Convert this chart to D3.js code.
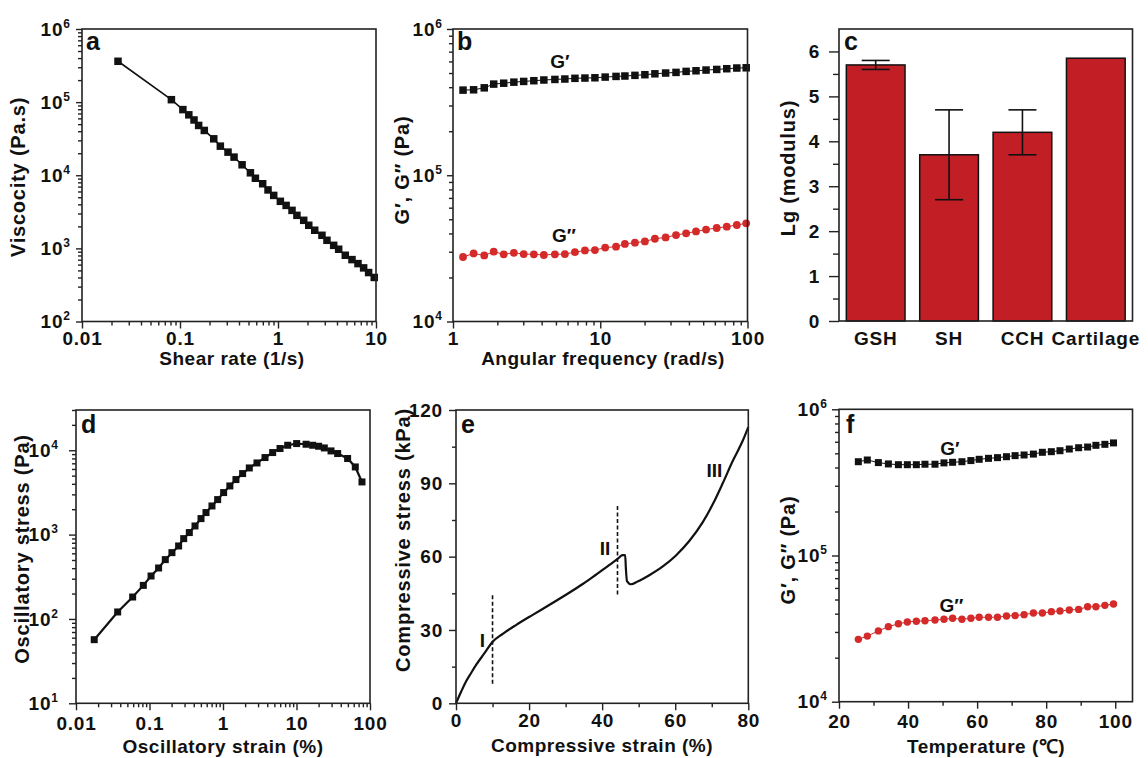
<!DOCTYPE html>
<html>
<head>
<meta charset="utf-8">
<script src="https://cdn.jsdelivr.net/npm/d3@7"></script>
<style>
  body { margin: 0; background: #fff; }
  svg { display: block; }
  text { font-family: "Liberation Sans", Arial, sans-serif; font-weight: bold; fill: #111; }
  .tick text { font-size: 19px; letter-spacing: 0.8px; }
  .xt { font-size: 19px; letter-spacing: 0.5px; }
  .yt { font-size: 20px; letter-spacing: 0.8px; }
  .tag { font-size: 25px; }
  .lbl { font-size: 19px; }
</style>
</head>
<body>
<svg id="fig" width="1148" height="758"></svg>
<script>
// ---- data ----
// a: viscosity vs shear rate
var aShear = [0.0233, 0.0817, 0.107, 0.123, 0.139, 0.155, 0.177, 0.221, 0.258, 0.309, 0.356, 0.43, 0.523, 0.588,
  0.698, 0.791, 0.904, 1.057, 1.21, 1.39, 1.56, 1.83, 2.06, 2.37, 2.81, 3.16, 3.70, 4.16, 4.86, 5.69, 6.55, 7.48, 8.41, 9.6];
var aVisc = [3.62e5, 1.08e5, 7.9e4, 6.7e4, 5.7e4, 4.8e4, 4.1e4, 3.15e4, 2.5e4, 2.07e4, 1.77e4, 1.39e4, 1.08e4, 9.1e3,
  7.65e3, 6.3e3, 5.3e3, 4.4e3, 3.87e3, 3.31e3, 2.83e3, 2.42e3, 2.07e3, 1.77e3, 1.51e3, 1.29e3, 1.10e3, 973, 805, 702, 619, 541, 467, 400];
var aXTicks = [0.01, 0.1, 1, 10];
var aYTicks = [1e2, 1e3, 1e4, 1e5, 1e6];

// b: frequency sweep
var bFreq = [1.17, 1.38, 1.63, 1.89, 2.21, 2.59, 3.02, 3.54, 4.14, 4.92, 5.75, 6.73, 7.87, 9.2, 10.8, 12.8, 14.7,
  17.2, 20.1, 23.5, 27.8, 32.7, 38.3, 44.7, 52.3, 61.8, 72.3, 84.6, 98];
var bGp = [3.82e5, 3.84e5, 3.96e5, 4.20e5, 4.26e5, 4.33e5, 4.38e5, 4.43e5, 4.48e5, 4.52e5, 4.55e5, 4.60e5, 4.62e5, 4.64e5,
  4.69e5, 4.74e5, 4.77e5, 4.82e5, 4.87e5, 4.94e5, 5.0e5, 5.05e5, 5.13e5, 5.18e5, 5.24e5, 5.29e5, 5.35e5, 5.41e5, 5.43e5];
var bGpp = [2.76e4, 2.92e4, 2.83e4, 3.0e4, 2.88e4, 2.95e4, 2.89e4, 2.88e4, 2.85e4, 2.88e4, 2.89e4, 2.98e4, 3.06e4, 3.08e4,
  3.20e4, 3.25e4, 3.39e4, 3.46e4, 3.53e4, 3.68e4, 3.76e4, 3.90e4, 4.01e4, 4.13e4, 4.25e4, 4.36e4, 4.45e4, 4.57e4, 4.69e4];
var bXTicks = [1, 10, 100];
var bYTicks = [1e4, 1e5, 1e6];

// c: modulus comparison
var cGroups = ['GSH', 'SH', 'CCH', 'Cartilage'];
var cModulus = [5.7, 3.7, 4.2, 5.85];
var cError = [0.1, 1.0, 0.5, 0];
var cYTicks = [0, 1, 2, 3, 4, 5, 6];

// d: amplitude sweep
var dStrain = [0.0177, 0.0369, 0.059, 0.0824, 0.105, 0.133, 0.164, 0.202, 0.249, 0.292, 0.348, 0.416, 0.502, 0.587,
  0.708, 0.846, 1.02, 1.24, 1.50, 1.85, 2.28, 2.90, 3.73, 4.74, 5.97, 7.59, 10.05, 13.5, 16.6, 20.0, 23.9, 29.5, 36.3,
  49.6, 63.1, 77.8];
var dStress = [56.8, 121, 182, 250, 323, 402, 505, 611, 733, 896, 1057, 1266, 1548, 1825, 2185, 2600, 3150, 3774, 4490,
  5290, 6170, 7070, 8190, 9390, 10480, 11460, 12000, 11780, 11460, 11150, 10650, 9820, 9140, 7980, 6340, 4210];
var dXTicks = [0.01, 0.1, 1, 10, 100];
var dYTicks = [1e1, 1e2, 1e3, 1e4];

// e: compression curve
var eStrain = [0, 1.4, 2.7, 4.1, 5.5, 7.8, 9.9, 12.8, 16.4, 21, 25.5, 30.1, 34.7, 38.3, 42, 44.3, 45.6, 46.3, 46.5,
  46.8, 47.9, 49.7, 52.9, 56.6, 60.2, 63.9, 67.5, 70.3, 73, 75.7, 78.5, 80];
var eStress = [0, 4.7, 8.8, 12.3, 15.7, 20.5, 25, 28.4, 32.0, 36.2, 40.2, 44.4, 48.8, 52.6, 56.6, 59.2, 60.6, 60.6, 55,
  50, 48.7, 49.8, 52.4, 56, 60.5, 66.5, 74, 81.5, 90, 99, 107.5, 113];
var eMarkX = [10, 44.2];
var eMarkLo = [8, 44.5];
var eMarkHi = [44.5, 81.5];
var eRegions = ['I', 'II', 'III'];
var eXTicks = [0, 20, 40, 60, 80];
var eYTicks = [0, 30, 60, 90, 120];

// f: temperature sweep
var fTemp = [25.6, 28.2, 31.4, 34.3, 37.2, 39.8, 42.4, 44.9, 47.8, 50.4, 52.9, 55.6, 58.2, 60.6, 63.3, 65.9, 68.5, 71.0,
  73.6, 76.3, 78.9, 81.5, 84.0, 86.7, 89.4, 92.0, 94.4, 97.0, 99.5];
var fGp = [4.38e5, 4.50e5, 4.32e5, 4.23e5, 4.18e5, 4.18e5, 4.18e5, 4.21e5, 4.21e5, 4.30e5, 4.34e5, 4.38e5, 4.46e5, 4.55e5,
  4.62e5, 4.67e5, 4.74e5, 4.82e5, 4.87e5, 4.94e5, 5.08e5, 5.13e5, 5.21e5, 5.35e5, 5.46e5, 5.52e5, 5.67e5, 5.76e5, 5.89e5];
var fGpp = [2.67e4, 2.81e4, 3.05e4, 3.26e4, 3.41e4, 3.51e4, 3.55e4, 3.58e4, 3.62e4, 3.66e4, 3.72e4, 3.66e4, 3.72e4, 3.78e4,
  3.78e4, 3.78e4, 3.86e4, 3.88e4, 3.94e4, 4.04e4, 4.04e4, 4.13e4, 4.17e4, 4.24e4, 4.28e4, 4.46e4, 4.46e4, 4.56e4, 4.66e4];
var fXTicks = [20, 40, 60, 80, 100];
var fYTicks = [1e4, 1e5, 1e6];

var BLACK = '#111', RED = '#d42a2a', BAR = '#c21e26';
var svg = d3.select('#fig');

/** minor ticks 2..9 of every decade inside [lo, hi] */
function logMinor(lo, hi) {
  var out = [];
  for (var e = Math.floor(Math.log10(lo)); e < Math.ceil(Math.log10(hi)); e++) {
    for (var k = 2; k <= 9; k++) {
      var v = k * Math.pow(10, e);
      if (v > lo * 1.0001 && v < hi * 1.0001) out.push(v);
    }
  }
  return out;
}

/** turns tick labels into 10 with a superscript exponent */
function powers(ax) {
  ax.selectAll('.tick text').each(function (d) {
    var t = d3.select(this).text('');
    t.append('tspan').text('10');
    t.append('tspan').attr('dy', '-8px').style('font-size', '12px').style('letter-spacing', '0px')
      .text(Math.round(Math.log10(d)));
  });
}

/** outward major + minor ticks along one side of a frame */
function axis(g, side, scale, major, minor, o) {
  var make = side === 'left' ? d3.axisLeft : d3.axisBottom;
  var holder = g.append('g');
  if (side === 'bottom') holder.attr('transform', 'translate(0,' + o.h + ')');
  if (minor) holder.append('g').call(make(scale).tickValues(minor).tickSize(o.minor || 4).tickFormat(''));
  var ax = holder.append('g').call(make(scale).tickValues(major).tickSize(o.major === undefined ? 7 : o.major)
    .tickPadding(o.pad).tickFormat(o.fmt || function (d) { return String(d); }));
  holder.selectAll('.domain').remove();
  holder.selectAll('.tick line').attr('stroke', '#222').attr('stroke-width', 1.4);
  if (o.pow) powers(ax);
  return ax;
}

function panel(box) {
  return svg.append('g').attr('transform', 'translate(' + box.x + ',' + box.y + ')');
}

function frame(g, box) {
  g.append('rect').attr('width', box.w).attr('height', box.h)
    .attr('fill', 'none').attr('stroke', '#222').attr('stroke-width', 1.6);
}

function tag(g, letter, dx, dy) {
  g.append('text').attr('class', 'tag').attr('x', dx).attr('y', dy).text(letter);
}

function xTitle(cx, base, txt) {
  svg.append('text').attr('class', 'xt').attr('x', cx).attr('y', base).attr('text-anchor', 'middle').text(txt);
}

function yTitle(cx, cy, txt) {
  svg.append('text').attr('class', 'yt').attr('transform', 'translate(' + cx + ',' + cy + ') rotate(-90)')
    .attr('text-anchor', 'middle').attr('dy', '0.35em').text(txt);
}

/** connected markers, squares or circles */
function series(g, x, y, xs, ys, o) {
  var pts = xs.map(function (v, i) { return [x(v), y(ys[i])]; });
  g.append('path').attr('d', d3.line()(pts)).attr('fill', 'none')
    .attr('stroke', o.color).attr('stroke-width', o.lw);
  if (o.shape === 'square') {
    g.selectAll(null).data(pts).enter().append('rect')
      .attr('x', function (p) { return p[0] - o.size / 2; })
      .attr('y', function (p) { return p[1] - o.size / 2; })
      .attr('width', o.size).attr('height', o.size).attr('fill', o.color);
  } else {
    g.selectAll(null).data(pts).enter().append('circle')
      .attr('cx', function (p) { return p[0]; })
      .attr('cy', function (p) { return p[1]; })
      .attr('r', o.size / 2).attr('fill', o.color);
  }
}

// ---- a ----
(function panelA() {
  var box = {x: 82, y: 29, w: 294, h: 292.5};
  var g = panel(box);
  var x = d3.scaleLog().domain([0.01, 10]).range([0, box.w]);
  var y = d3.scaleLog().domain([1e2, 1e6]).range([box.h, 0]);
  axis(g, 'bottom', x, aXTicks, logMinor(0.01, 10), {h: box.h, pad: 3.5});
  axis(g, 'left', y, aYTicks, logMinor(1e2, 1e6), {major: 6, pad: 6, pow: true});
  series(g, x, y, aShear, aVisc, {color: BLACK, lw: 1.6, shape: 'square', size: 7.5});
  frame(g, box);
  tag(g, 'a', 4, 21);
  xTitle(232, 364.5, 'Shear rate (1/s)');
  yTitle(18, 177, 'Viscocity (Pa.s)');
})();

// ---- b ----
(function panelB() {
  var box = {x: 453, y: 29, w: 294.5, h: 292.5};
  var g = panel(box);
  var x = d3.scaleLog().domain([1, 100]).range([0, box.w]);
  var y = d3.scaleLog().domain([1e4, 1e6]).range([box.h, 0]);
  axis(g, 'bottom', x, bXTicks, logMinor(1, 100), {h: box.h, pad: 3.5});
  axis(g, 'left', y, bYTicks, logMinor(1e4, 1e6), {major: 6, pad: 5, pow: true});
  series(g, x, y, bFreq, bGp, {color: BLACK, lw: 1, shape: 'square', size: 7.5});
  series(g, x, y, bFreq, bGpp, {color: RED, lw: 1, shape: 'circle', size: 7.8});
  g.append('text').attr('class', 'lbl').attr('x', 107).attr('y', 39.3).attr('text-anchor', 'middle').text('G\u2032');
  g.append('text').attr('class', 'lbl').attr('x', 111).attr('y', 212.7).attr('text-anchor', 'middle').text('G\u2033');
  frame(g, box);
  tag(g, 'b', 4, 21);
  xTitle(603, 364.5, 'Angular frequency (rad/s)');
  yTitle(402, 170, 'G\u2032, G\u2033 (Pa)');
})();

// ---- c ----
(function panelC() {
  var box = {x: 839, y: 29, w: 293.5, h: 292};
  var g = panel(box);
  var x = d3.scaleBand().domain(cGroups).range([0, box.w]).paddingInner(0.2).paddingOuter(0.1);
  var y = d3.scaleLinear().domain([0, 6.5]).range([box.h, 0]);
  axis(g, 'left', y, cYTicks, d3.range(0.5, 6, 1), {major: 10, minor: 6, pad: 9});
  axis(g, 'bottom', x, cGroups, null, {h: box.h, major: 0, pad: 10.5});
  g.selectAll('.bar').data(cGroups).enter().append('rect')
    .attr('x', function (d) { return x(d); })
    .attr('y', function (d, i) { return y(cModulus[i]); })
    .attr('width', x.bandwidth())
    .attr('height', function (d, i) { return box.h - y(cModulus[i]); })
    .attr('fill', BAR).attr('stroke', '#111').attr('stroke-width', 1.5);
  // error bars
  cGroups.forEach(function (d, i) {
    if (!cError[i]) return;
    var cx = x(d) + x.bandwidth() / 2;
    var hi = y(cModulus[i] + cError[i]), lo = y(cModulus[i] - cError[i]);
    var eb = g.append('g').attr('stroke', '#111').attr('stroke-width', 1.6);
    eb.append('line').attr('x1', cx).attr('x2', cx).attr('y1', hi).attr('y2', lo);
    eb.append('line').attr('x1', cx - 14).attr('x2', cx + 14).attr('y1', hi).attr('y2', hi);
    eb.append('line').attr('x1', cx - 14).attr('x2', cx + 14).attr('y1', lo).attr('y2', lo);
  });
  frame(g, box);
  tag(g, 'c', 5, 21);
  yTitle(788, 168, 'Lg (modulus)');
})();

// ---- d ----
(function panelD() {
  var box = {x: 76, y: 410, w: 294, h: 293.3};
  var g = panel(box);
  var x = d3.scaleLog().domain([0.01, 100]).range([0, box.w]);
  var y = d3.scaleLog().domain([10, 3e4]).range([box.h, 0]);
  axis(g, 'bottom', x, dXTicks, logMinor(0.01, 100), {h: box.h, pad: 6.5});
  axis(g, 'left', y, dYTicks, logMinor(10, 3e4), {pad: 11, pow: true});
  series(g, x, y, dStrain, dStress, {color: BLACK, lw: 2.2, shape: 'square', size: 7});
  frame(g, box);
  tag(g, 'd', 5, 23);
  xTitle(223, 752.5, 'Oscillatory strain (%)');
  yTitle(22, 549, 'Oscillatory stress (Pa)');
})();

// ---- e ----
(function panelE() {
  var box = {x: 456, y: 410, w: 292.3, h: 293.3};
  var g = panel(box);
  var x = d3.scaleLinear().domain([0, 80]).range([0, box.w]);
  var y = d3.scaleLinear().domain([0, 120]).range([box.h, 0]);
  axis(g, 'bottom', x, eXTicks, [10, 30, 50, 70], {h: box.h, pad: 3});
  axis(g, 'left', y, eYTicks, [15, 45, 75, 105], {pad: 6});
  var line = d3.line().x(function (d) { return x(d[0]); }).y(function (d) { return y(d[1]); }).curve(d3.curveMonotoneX);
  g.append('path').attr('d', line(eStrain.map(function (v, i) { return [v, eStress[i]]; })))
    .attr('fill', 'none').attr('stroke', BLACK).attr('stroke-width', 2.2);
  eMarkX.forEach(function (v, i) {
    g.append('line').attr('x1', x(v)).attr('x2', x(v)).attr('y1', y(eMarkLo[i])).attr('y2', y(eMarkHi[i]))
      .attr('stroke', BLACK).attr('stroke-width', 1.6).attr('stroke-dasharray', '4,2.5');
  });
  var regionAt = [[7.25, 23], [40.8, 60.6], [70.7, 92.6]];
  eRegions.forEach(function (r, i) {
    g.append('text').attr('class', 'lbl').attr('text-anchor', 'middle')
      .attr('x', x(regionAt[i][0])).attr('y', y(regionAt[i][1])).text(r);
  });
  frame(g, box);
  tag(g, 'e', 5, 23);
  xTitle(602, 752, 'Compressive strain (%)');
  yTitle(403, 540, 'Compressive stress (kPa)');
})();

// ---- f ----
(function panelF() {
  var box = {x: 839, y: 409.3, w: 293.5, h: 292.4};
  var g = panel(box);
  var x = d3.scaleLinear().domain([20, 105]).range([0, box.w]);
  var y = d3.scaleLog().domain([1e4, 1e6]).range([box.h, 0]);
  axis(g, 'bottom', x, fXTicks, [30, 50, 70, 90], {h: box.h, pad: 6});
  axis(g, 'left', y, fYTicks, logMinor(1e4, 1e6), {pad: 5, pow: true});
  series(g, x, y, fTemp, fGp, {color: BLACK, lw: 1, shape: 'square', size: 7});
  series(g, x, y, fTemp, fGpp, {color: RED, lw: 1, shape: 'circle', size: 7.4});
  g.append('text').attr('class', 'lbl').attr('x', 111).attr('y', 45.7).attr('text-anchor', 'middle').text('G\u2032');
  g.append('text').attr('class', 'lbl').attr('x', 112.5).attr('y', 202.4).attr('text-anchor', 'middle').text('G\u2033');
  frame(g, box);
  tag(g, 'f', 7, 23.7);
  xTitle(986, 753, 'Temperature (\u2103)');
  yTitle(788, 550, 'G\u2032, G\u2033 (Pa)');
})();
</script>
</body>
</html>
